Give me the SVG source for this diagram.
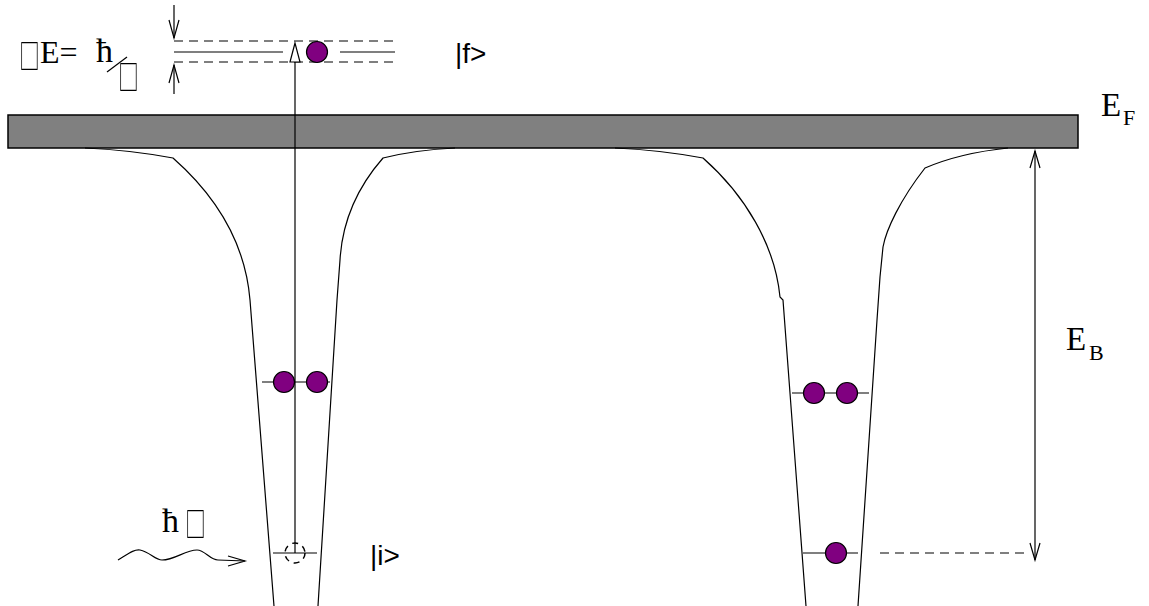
<svg xmlns="http://www.w3.org/2000/svg" width="1149" height="606" viewBox="0 0 1149 606">
<defs>
<filter id="gray" x="-20%" y="-20%" width="140%" height="140%"><feColorMatrix type="saturate" values="0"/></filter>
</defs>
<style>
.ln{fill:none;stroke:#000;stroke-width:1.2}
.ds{fill:none;stroke:#000;stroke-width:1.2;stroke-dasharray:9 6}
.el{fill:#800080;stroke:#000;stroke-width:1.2}
.serif{font-family:"Liberation Serif","Times New Roman",serif;fill:#000}
.sans{font-family:"Liberation Sans",Arial,sans-serif;fill:#000}
.tofu{font-family:"Noto Sans CJK SC",sans-serif;fill:#000;font-size:34px}
</style>
<rect x="0" y="0" width="1149" height="606" fill="#fff"/>
<g id="fermi-band">
<rect x="8" y="115" width="1070" height="33" fill="#808080" stroke="#000" stroke-width="1.5"/>
</g>
<g id="well-left">
<path class="ln" d="M85,148 Q130,150 173,158 C215,195 245,240 250,300 L274,606"/>
<path class="ln" d="M455,148 Q415,150 383,158 C355,190 342,225 340,260 L337,300 L318,606"/>
</g>
<g id="well-right">
<path class="ln" d="M615,148 Q660,150 703,158 C745,195 775,245 780,297 L783,300 L806,606"/>
<path class="ln" d="M1008,148 Q960,153 925,168 C900,200 886,230 883,247 L880,277 L877,320 L858,606"/>
</g>
<g id="electrons-left">
<line class="ln" x1="262" y1="382" x2="330" y2="382"/>
<circle class="el" cx="284" cy="382" r="10.5"/>
<circle class="el" cx="317" cy="382" r="10.5"/>
</g>
<g id="electrons-right">
<line class="ln" x1="792" y1="393" x2="869" y2="393"/>
<circle class="el" cx="814" cy="393" r="10.5"/>
<circle class="el" cx="847" cy="393" r="10.5"/>
</g>
<g id="state-i-right">
<line class="ln" x1="803" y1="553" x2="858" y2="553"/>
<circle class="el" cx="836" cy="553" r="10.5"/>
</g>
<g id="state-i">
<line class="ln" x1="273" y1="553" x2="317" y2="553"/>
<circle cx="295" cy="553" r="10" fill="none" stroke="#000" stroke-width="1.5" stroke-dasharray="6 5"/>
<text class="sans" x="370" y="565" font-size="28">|i&gt;</text>
</g>
<g id="state-f">
<line class="ds" x1="174" y1="41" x2="395" y2="41"/>
<line class="ds" x1="174" y1="62" x2="395" y2="62"/>
<line class="ln" x1="174" y1="52" x2="283" y2="52"/>
<line class="ln" x1="340" y1="52" x2="395" y2="52"/>
<circle class="el" cx="317" cy="52" r="10.5"/>
<text class="sans" x="455" y="63" font-size="28">|f&gt;</text>
</g>
<g id="width-label">
<g filter="url(#gray)"><text class="tofu" transform="translate(21,67) scale(0.6,1)" x="-3" y="2">□</text></g>
<text class="serif" x="40" y="63" font-size="32">E= </text>
<text class="serif" x="96" y="62" font-size="34">ħ</text>
<line class="ln" x1="107" y1="72" x2="127" y2="57"/>
<g filter="url(#gray)"><text class="tofu" transform="translate(120,88) scale(0.6,1)" x="-3" y="2">□</text></g>
</g>
<g id="photon">
<path class="ln" d="M118,560 C128,554 134,549 140,550 C150,552 155,560 162,560 C175,560 185,550 197,550 C205,550 210,560 218,560 L245,561"/>
<polyline class="ln" points="228,556 245,561 228,566"/>
<text class="serif" x="162" y="532" font-size="34">ħ</text>
<g filter="url(#gray)"><text class="tofu" transform="translate(187,535) scale(0.6,1)" x="-3" y="2">□</text></g>
</g>
<g id="labels">
<text class="serif" x="1101" y="116" font-size="33">E</text>
<text class="serif" x="1123" y="125" font-size="22">F</text>
<text class="serif" x="1066" y="350" font-size="33">E</text>
<text class="serif" x="1089" y="360" font-size="22">B</text>
</g>
<g id="connectors">
<line class="ln" x1="295" y1="553" x2="295" y2="44"/>
<polygon points="295,43 290,62 300,62" fill="#fff" stroke="#000" stroke-width="1.2"/>
<line class="ln" x1="174" y1="5" x2="174" y2="38"/>
<polyline class="ln" points="169,20 174,38 179,20"/>
<line class="ln" x1="174" y1="65" x2="174" y2="94"/>
<polyline class="ln" points="169,83 174,65 179,83"/>
<line class="ln" x1="1035" y1="151" x2="1035" y2="560"/>
<polyline class="ln" points="1030,168 1035,151 1040,168"/>
<polyline class="ln" points="1030,543 1035,560 1040,543"/>
<line class="ds" x1="880" y1="553" x2="1025" y2="553"/>
</g>
</svg>
